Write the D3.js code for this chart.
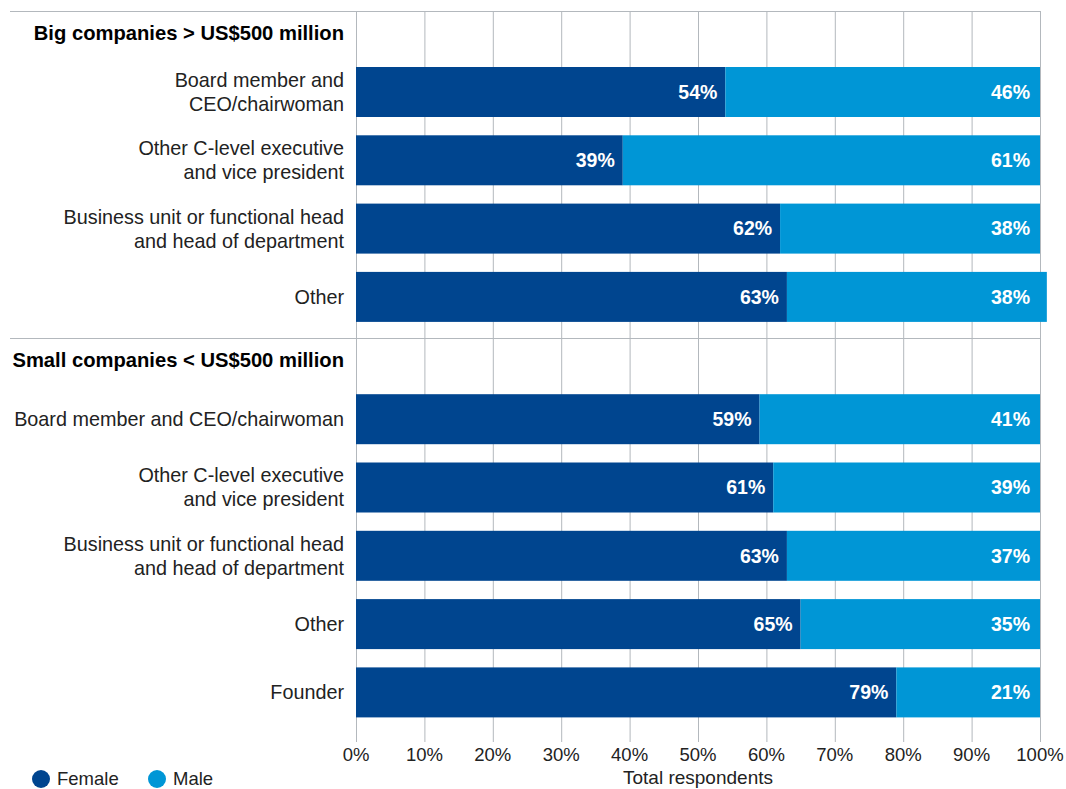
<!DOCTYPE html>
<html>
<head>
<meta charset="utf-8">
<script src="https://cdn.jsdelivr.net/npm/d3@7"></script>
<style>
  body { margin: 0; background: #fff; }
  text { font-family: "Liberation Sans", Arial, sans-serif; }
</style>
</head>
<body>
<svg id="canvas"></svg>
<script>
const width = 1066, height = 789;

/* Data */
const groups = ["Big companies > US$500 million", "Small companies < US$500 million"];
const categories = [
  ["Board member and", "CEO/chairwoman"],
  ["Other C-level executive", "and vice president"],
  ["Business unit or functional head", "and head of department"],
  ["Other"],
  ["Board member and CEO/chairwoman"],
  ["Other C-level executive", "and vice president"],
  ["Business unit or functional head", "and head of department"],
  ["Other"],
  ["Founder"]
];
const groupOf = [0, 0, 0, 0, 1, 1, 1, 1, 1];
const female = [54, 39, 62, 63, 59, 61, 63, 65, 79];
const male = [46, 61, 38, 38, 41, 39, 37, 35, 21];
const ticks = [0, 10, 20, 30, 40, 50, 60, 70, 80, 90, 100];
const series = ["Female", "Male"];

const colFemale = "#00458f";
const colMale = "#0096d6";
const gridCol = "#b3b8bd";

const rows = categories.map((c, i) => ({ id: i, lines: c, g: groupOf[i], f: female[i], m: male[i] }));

/* Sets up svg */
const svg = d3.select("#canvas")
    .attr("width", width)
    .attr("height", height);

const x = d3.scaleLinear().domain([0, 100]).range([356, 1040]);

const step = 68.3, bandW = 50, firstTop = 67, groupGap = 54;
const y = d3.scaleBand()
    .domain(rows.map(d => d.id))
    .range([firstTop - 9.15, firstTop - 9.15 + 9 * step])
    .paddingInner((step - bandW) / step)
    .paddingOuter((step - bandW) / step / 2);
const yPos = d => y(d.id) + (d.g === 1 ? groupGap : 0);

/* Grid */
const grid = svg.append("g");
grid.selectAll("line.v")
    .data(ticks)
    .enter()
    .append("line")
    .attr("x1", d => x(d) + 0.5)
    .attr("x2", d => x(d) + 0.5)
    .attr("y1", 11)
    .attr("y2", 742)
    .attr("stroke", gridCol)
    .attr("stroke-width", 1);

grid.selectAll("line.h")
    .data([11.5, 338.5])
    .enter()
    .append("line")
    .attr("x1", 10)
    .attr("x2", x(100) + 0.5)
    .attr("y1", d => d)
    .attr("y2", d => d)
    .attr("stroke", gridCol)
    .attr("stroke-width", 1);

/* Group headings */
const headY = [33, 360];
svg.append("g")
    .selectAll("text")
    .data(groups)
    .enter()
    .append("text")
    .attr("x", 344)
    .attr("y", (d, i) => headY[i])
    .attr("dy", "0.35em")
    .attr("text-anchor", "end")
    .attr("font-weight", "bold")
    .attr("font-size", 20.2)
    .attr("fill", "#000")
    .text(d => d);

/* Bars */
const bars = svg.append("g");
bars.selectAll("rect.f")
    .data(rows)
    .enter()
    .append("rect")
    .attr("x", x(0))
    .attr("y", yPos)
    .attr("width", d => x(d.f) - x(0))
    .attr("height", y.bandwidth())
    .attr("fill", colFemale);

bars.selectAll("rect.m")
    .data(rows)
    .enter()
    .append("rect")
    .attr("x", d => x(d.f))
    .attr("y", yPos)
    .attr("width", d => x(d.f + d.m) - x(d.f))
    .attr("height", y.bandwidth())
    .attr("fill", colMale);

/* Value labels */
const labels = svg.append("g")
    .attr("font-weight", "bold")
    .attr("font-size", 19.5)
    .attr("fill", "#fff")
    .attr("text-anchor", "end");

labels.selectAll("text.f")
    .data(rows)
    .enter()
    .append("text")
    .attr("x", d => x(d.f) - 8)
    .attr("y", d => yPos(d) + y.bandwidth() / 2)
    .attr("dy", "0.35em")
    .text(d => d.f + "%");

labels.selectAll("text.m")
    .data(rows)
    .enter()
    .append("text")
    .attr("x", x(100) - 10)
    .attr("y", d => yPos(d) + y.bandwidth() / 2)
    .attr("dy", "0.35em")
    .text(d => d.m + "%");

/* Category labels */
const cat = svg.append("g")
    .selectAll("text")
    .data(rows)
    .enter()
    .append("text")
    .attr("text-anchor", "end")
    .attr("font-size", 19.8)
    .attr("fill", "#222")
    .attr("y", d => yPos(d) + y.bandwidth() / 2 - (d.lines.length - 1) * 12);

cat.selectAll("tspan")
    .data(d => d.lines)
    .enter()
    .append("tspan")
    .attr("x", 344)
    .attr("dy", (d, i) => i === 0 ? "0.35em" : 24)
    .text(d => d);

/* X axis labels */
svg.append("g")
    .selectAll("text")
    .data(ticks)
    .enter()
    .append("text")
    .attr("x", d => x(d))
    .attr("y", 755)
    .attr("dy", "0.35em")
    .attr("text-anchor", "middle")
    .attr("font-size", 18.5)
    .attr("fill", "#222")
    .text(d => d + "%");

svg.append("text")
    .attr("x", (x(0) + x(100)) / 2)
    .attr("y", 777)
    .attr("dy", "0.35em")
    .attr("text-anchor", "middle")
    .attr("font-size", 19)
    .attr("fill", "#222")
    .text("Total respondents");

/* Legend */
const legend = svg.append("g")
    .selectAll("g")
    .data(series)
    .enter()
    .append("g")
    .attr("transform", (d, i) => `translate(${41 + i * 116},779)`);

legend.append("circle")
    .attr("r", 9)
    .attr("fill", (d, i) => i === 0 ? colFemale : colMale);

legend.append("text")
    .attr("x", 16)
    .attr("dy", "0.3em")
    .attr("font-size", 18.5)
    .attr("fill", "#222")
    .text(d => d);
</script>
</body>
</html>
